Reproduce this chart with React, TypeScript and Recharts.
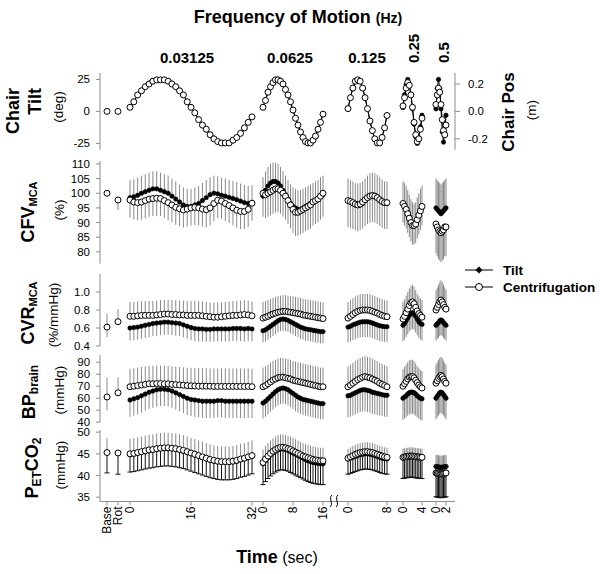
import { ComposedChart, Line, XAxis, YAxis, ErrorBar } from 'recharts';

const FONT = 'Arial, "Liberation Sans", Helvetica, sans-serif';
const AXIS = '#8c8c8c';

// frequency blocks of the broken time axis
const freqLabels = ['0.03125', '0.0625', '0.125', '0.25', '0.5'];
const preLabels = ['Base', 'Rot'];

// bin times within one cycle (sec)
const t1 = [0, 1, 2, 3, 4, 5, 6, 7, 8, 9, 10, 11, 12, 13, 14, 15, 16, 17, 18, 19, 20, 21, 22, 23, 24, 25, 26, 27, 28, 29, 30, 31, 32];
const t2 = [0, 0.67, 1.33, 2, 2.67, 3.33, 4, 4.67, 5.33, 6, 6.67, 7.33, 8, 8.67, 9.33, 10, 10.67, 11.33, 12, 12.67, 13.33, 14, 14.67, 15.33, 16];
const t3 = [0, 0.5, 1, 1.5, 2, 2.5, 3, 3.5, 4, 4.5, 5, 5.5, 6, 6.5, 7, 7.5, 8];
const t4 = [0, 0.33, 0.67, 1, 1.33, 1.67, 2, 2.33, 2.67, 3, 3.33, 3.67, 4];
const t5 = [0, 0.25, 0.5, 0.75, 1, 1.25, 1.5, 1.75, 2];
const segTimes = [t1, t2, t3, t4, t5];
const segTickTimes = [[0, 16, 32], [0, 8, 16], [0, 8], [0, 4], [0, 2]];

// chair tilt (deg) and chair position (m)
const chairTilt = [
  [3, 8, 12.5, 16.5, 19.5, 22, 24, 25, 25, 25, 24, 22, 19.5, 16.5, 12.5, 8, 3.5, -1, -6, -10.5, -14.5, -18, -21, -23.5, -25, -25, -24.5, -23, -20.5, -17, -13, -8.5, -4],
  [3, 9, 15, 19.5, 23, 25, 25, 24, 21.5, 17.5, 12.5, 7, 1, -5, -11, -16, -20.5, -23.5, -25, -25, -23, -19.5, -14.5, -8.5, -2],
  [2, 11, 18.5, 23.5, 25, 23.5, 18.5, 11, 2, -7, -15.5, -21.5, -25, -24.5, -20, -12.5, -3],
  [3, 13, 21, 25, 21, 13, 2, -10, -20, -25, -21, -12, -3],
  [2, 18, 25, 18, 2, -16, -24, -18, -3],
];
const chairPos = [
  [0.03, 0.07, 0.12, 0.15, 0.18, 0.2, 0.22, 0.23, 0.23, 0.23, 0.22, 0.2, 0.18, 0.15, 0.12, 0.07, 0.03, -0.01, -0.06, -0.1, -0.13, -0.17, -0.2, -0.22, -0.23, -0.23, -0.23, -0.21, -0.19, -0.16, -0.12, -0.08, -0.04],
  [0.03, 0.08, 0.14, 0.18, 0.21, 0.23, 0.23, 0.22, 0.2, 0.16, 0.12, 0.07, 0.01, -0.05, -0.1, -0.15, -0.19, -0.22, -0.23, -0.23, -0.21, -0.18, -0.13, -0.08, -0.02],
  [0.02, 0.1, 0.17, 0.22, 0.23, 0.22, 0.17, 0.1, 0.02, -0.07, -0.14, -0.2, -0.23, -0.23, -0.19, -0.12, -0.03],
  [0.04, 0.1, 0.17, 0.21, 0.19, 0.12, 0.03, -0.08, -0.17, -0.22, -0.2, -0.13, -0.05],
  [0.05, 0.12, 0.17, 0.14, 0.05, -0.06, -0.14, -0.17, -0.1],
];

// CFV MCA (%)
const cfvTilt = [
  [98.5, 98.8, 99.3, 100, 100.5, 101, 101.5, 101.5, 101, 100.5, 100, 99, 98, 97, 96, 95.5, 95.5, 96, 96.5, 97.5, 98.5, 99.5, 100, 99.8, 99.3, 99, 98.6, 98.2, 97.8, 97.3, 96.8, 96.5, 96.8],
  [99, 101, 102.5, 103.5, 104, 104, 103.5, 102.5, 101, 99.5, 98, 96.5, 95.5, 95, 94.5, 94.5, 95, 95.5, 96, 96.5, 97, 97.5, 98, 99, 99.5],
  [97.5, 97, 96.5, 96, 95.8, 96, 96.5, 97.5, 98.5, 99.3, 99.5, 99.3, 98.8, 98, 97.2, 96.6, 96.5],
  [96.5, 96, 95, 93.5, 92, 90.5, 89.5, 89, 89.5, 91, 92.5, 94, 95],
  [95, 94.5, 94, 93.5, 93, 93.5, 94, 94.5, 95],
];
const cfvCent = [
  [97.7, 97, 96.8, 97, 97.5, 98, 98.2, 98.3, 98.2, 97.5, 96.8, 96, 95.2, 94.7, 94.3, 94.6, 95, 95.2, 95, 94.6, 94.4, 95, 96.5, 97.6, 97.3, 96.5, 95.8, 95, 94.2, 93.8, 93.8, 94.5, 96.6],
  [100, 99.5, 100, 100.5, 101, 101.5, 101.5, 101, 100, 99, 97.5, 96, 94.5, 93.5, 93.5, 94, 94.5, 95, 95.5, 96, 97, 97.5, 98, 99, 100],
  [97.5, 97.2, 96.8, 96.3, 96, 96.3, 97, 97.8, 98.5, 99, 99.2, 99, 98.5, 97.8, 97.2, 96.8, 96.8],
  [96.5, 95.5, 94.5, 93, 91.5, 90, 89, 89, 89.5, 91, 92.5, 94, 95.5],
  [89.5, 88.5, 87.5, 87, 86.5, 87, 87.5, 88.5, 88.5],
];

// CVR MCA (%/mmHg)
const cvrTilt = [
  [0.6, 0.605, 0.61, 0.62, 0.63, 0.64, 0.65, 0.655, 0.66, 0.665, 0.665, 0.66, 0.655, 0.65, 0.635, 0.62, 0.605, 0.595, 0.59, 0.59, 0.585, 0.585, 0.59, 0.59, 0.59, 0.59, 0.59, 0.595, 0.595, 0.595, 0.59, 0.595, 0.59],
  [0.57, 0.58, 0.6, 0.62, 0.64, 0.66, 0.68, 0.695, 0.7, 0.695, 0.685, 0.67, 0.655, 0.64, 0.625, 0.61, 0.6, 0.59, 0.585, 0.58, 0.575, 0.57, 0.565, 0.56, 0.56],
  [0.61, 0.62, 0.635, 0.645, 0.655, 0.665, 0.67, 0.67, 0.67, 0.665, 0.655, 0.645, 0.635, 0.625, 0.62, 0.615, 0.615],
  [0.63, 0.65, 0.68, 0.71, 0.74, 0.76, 0.77, 0.76, 0.73, 0.7, 0.67, 0.65, 0.64],
  [0.63, 0.645, 0.66, 0.68, 0.69, 0.68, 0.66, 0.645, 0.63],
];
const cvrCent = [
  [0.73, 0.73, 0.735, 0.74, 0.74, 0.74, 0.74, 0.745, 0.75, 0.755, 0.755, 0.75, 0.75, 0.745, 0.745, 0.74, 0.74, 0.74, 0.74, 0.735, 0.73, 0.725, 0.72, 0.72, 0.725, 0.73, 0.735, 0.74, 0.74, 0.745, 0.75, 0.745, 0.735],
  [0.71, 0.72, 0.73, 0.745, 0.755, 0.765, 0.775, 0.78, 0.785, 0.785, 0.78, 0.775, 0.77, 0.765, 0.76, 0.755, 0.745, 0.74, 0.735, 0.73, 0.725, 0.72, 0.715, 0.71, 0.705],
  [0.71, 0.73, 0.75, 0.77, 0.785, 0.795, 0.8, 0.8, 0.8, 0.795, 0.785, 0.775, 0.765, 0.75, 0.74, 0.73, 0.725],
  [0.7, 0.73, 0.77, 0.81, 0.85, 0.88, 0.89, 0.87, 0.83, 0.79, 0.76, 0.74, 0.72],
  [0.8, 0.83, 0.86, 0.89, 0.91, 0.89, 0.86, 0.83, 0.81],
];

// BP brain (mmHg)
const bpTilt = [
  [58.5, 59.5, 60.5, 62, 63.5, 65, 66, 67, 67.5, 67.5, 67, 66, 64.5, 63, 61.5, 60, 59, 58.5, 58, 57.5, 57.5, 57.5, 57.5, 58, 58, 57.5, 57.5, 57.5, 57.5, 57.5, 57.5, 57.5, 57.5],
  [56, 57.5, 59.5, 61.5, 63.5, 65.5, 67, 68, 68.5, 68, 67, 65.5, 64, 62.5, 61, 60, 59, 58.5, 58, 57.5, 57, 56.5, 56, 55.5, 55.5],
  [62, 62.5, 63.5, 64.5, 65.5, 66.5, 67, 67, 66.5, 66, 65, 64.5, 64, 63.5, 63, 62.5, 62.5],
  [60, 61, 62, 63.5, 64.5, 65, 65, 64.5, 63.5, 62, 61, 60, 59.5],
  [60, 61.5, 63, 64.5, 65, 64.5, 63, 61.5, 60],
];
const bpCent = [
  [69.5, 70, 70.5, 71, 71.5, 72, 72, 72.2, 72.2, 72, 72, 71.5, 71.3, 71, 70.8, 70.5, 70.3, 70.2, 70, 70, 70, 70, 69.8, 69.8, 69.8, 69.8, 69.8, 69.8, 69.8, 69.8, 69.8, 69.8, 69.6],
  [69.5, 70.5, 72, 73.5, 75, 76, 77, 77.5, 77.5, 77, 76.5, 76, 75, 74.5, 74, 73.5, 73, 72.5, 72, 71.5, 71, 70.5, 70, 69.5, 69.5],
  [69.5, 71, 72.5, 74, 75.5, 76.5, 77.5, 78, 77.5, 77, 76, 75, 74, 72.5, 71.5, 70.5, 69.5],
  [70, 72, 74, 76, 77.5, 78, 78, 77, 75, 73, 71, 69.5, 68.5],
  [72.5, 74.5, 76.5, 78, 79, 78, 76, 74, 72.5],
];

// PETCO2 (mmHg)
const petTilt = [
  [44.8, 44.9, 45.1, 45.3, 45.5, 45.7, 45.8, 46, 46.1, 46.2, 46.2, 46.1, 46, 45.8, 45.6, 45.3, 45, 44.7, 44.4, 44.1, 43.8, 43.5, 43.3, 43.1, 43, 43, 43, 43.1, 43.3, 43.6, 43.8, 44.1, 44.4],
  [42.7, 43.4, 44.1, 44.7, 45.2, 45.6, 45.9, 46.1, 46.1, 46, 45.8, 45.5, 45.2, 44.9, 44.6, 44.3, 44, 43.7, 43.4, 43.2, 43, 42.9, 42.8, 42.7, 42.7],
  [43.8, 44, 44.2, 44.4, 44.6, 44.8, 44.9, 45, 45, 44.9, 44.8, 44.6, 44.4, 44.2, 44, 43.9, 43.8],
  [44, 44.1, 44.2, 44.2, 44.3, 44.3, 44.3, 44.2, 44.2, 44.1, 44.1, 44, 44],
  [42.1, 42, 42, 41.9, 41.9, 41.9, 42, 42, 42.1],
];
const petCent = [
  [45, 45.1, 45.3, 45.5, 45.7, 45.9, 46, 46.2, 46.3, 46.4, 46.4, 46.3, 46.2, 46, 45.8, 45.5, 45.2, 44.9, 44.6, 44.3, 44, 43.7, 43.5, 43.3, 43.2, 43.2, 43.2, 43.3, 43.5, 43.8, 44, 44.3, 44.6],
  [43, 43.8, 44.5, 45.1, 45.6, 46, 46.3, 46.5, 46.5, 46.4, 46.2, 46, 45.7, 45.4, 45.1, 44.8, 44.5, 44.3, 44.1, 43.9, 43.7, 43.6, 43.5, 43.4, 43.4],
  [44, 44.3, 44.6, 44.9, 45.1, 45.3, 45.4, 45.5, 45.5, 45.4, 45.3, 45.1, 44.9, 44.7, 44.5, 44.3, 44.2],
  [44.2, 44.3, 44.4, 44.4, 44.5, 44.5, 44.5, 44.4, 44.4, 44.3, 44.3, 44.2, 44.2],
  [40.6, 40.5, 40.5, 40.4, 40.4, 40.4, 40.5, 40.5, 40.6],
];

// one-sided SD per frequency block: [tilt, centrifugation]
const cfvSd = [[6, 6.5, 7.5, 7.5, 10], [6, 8, 9, 6.5, 10]];
const cvrSd = [[0.14, 0.13, 0.17, 0.18, 0.17], [0.16, 0.18, 0.18, 0.19, 0.22]];
const bpSd = [[14, 13, 18, 18, 17.5], [15, 16, 17, 14, 15.5]];
const petSd = [[4, 4.8, 3.5, 4.7, 7], [3.5, 3, 2.2, 2, 4.2]];

// Base / Rot points: [tilt, centrifugation] and their SD
const chairPre = [[0, 0], [0, 0]];
const cfvPre = [[100, 100], [97.7, 97.7]];
const cfvPreSd = [[0, 0], [0, 3.4]];
const cvrPre = [[0.61, 0.61], [0.67, 0.67]];
const cvrPreSd = [[0.11, 0.15], [0, 0.14]];
const bpPre = [[61, 61], [64.5, 64.5]];
const bpPreSd = [[11, 16], [0, 13]];
const petPre = [[45.3, 45.3], [45.2, 45.2]];
const petPreSd = [[4.7, 3.3], [4.9, 0]];

// layout of the broken time axis, in px from the y axis
const PRE_X = [7, 18];
const SEG_X0 = [30, 163, 248, 303, 336];
const SEG_K = [3.8125, 3.75, 4.875, 4.75, 5];
const X_MAX = 355;

const tickXs: number[] = [...PRE_X];
const tickLabels: string[] = [...preLabels];
segTickTimes.forEach((ts, s) => ts.forEach((t) => { tickXs.push(SEG_X0[s] + t * SEG_K[s]); tickLabels.push(String(t)); }));

type Panel = {
  id: string; top: number; bottom: number; domain: [number, number]; ticks: number[]; digits: number;
  tilt: number[][]; cent: number[][]; sd: number[][] | null; pre: number[][]; preSd: number[][] | null;
  tiltUp: boolean; tiltBar: string; centBar: string; tiltCap: number; right?: boolean;
};

const panels: Panel[] = [
  { id: 'chair', top: 72.6, bottom: 149.4, domain: [-30, 30], ticks: [-25, 0, 25], digits: 0, tilt: chairTilt, cent: chairPos, sd: null, pre: chairPre, preSd: null, tiltUp: false, tiltBar: AXIS, centBar: AXIS, tiltCap: 0, right: true },
  { id: 'cfv', top: 161.1, bottom: 263.7, domain: [76, 111], ticks: [80, 85, 90, 95, 100, 105, 110], digits: 0, tilt: cfvTilt, cent: cfvCent, sd: cfvSd, pre: cfvPre, preSd: cfvPreSd, tiltUp: true, tiltBar: '#8a8a8a', centBar: '#8a8a8a', tiltCap: 0 },
  { id: 'cvr', top: 274, bottom: 346, domain: [0.4, 1.2], ticks: [0.4, 0.6, 0.8, 1.0], digits: 1, tilt: cvrTilt, cent: cvrCent, sd: cvrSd, pre: cvrPre, preSd: cvrPreSd, tiltUp: false, tiltBar: '#8a8a8a', centBar: '#8a8a8a', tiltCap: 0 },
  { id: 'bp', top: 354.8, bottom: 422, domain: [40, 96], ticks: [40, 50, 60, 70, 80, 90], digits: 0, tilt: bpTilt, cent: bpCent, sd: bpSd, pre: bpPre, preSd: bpPreSd, tiltUp: false, tiltBar: '#8a8a8a', centBar: '#8a8a8a', tiltCap: 0 },
  { id: 'pet', top: 429.8, bottom: 501.3, domain: [34, 50.5], ticks: [35, 40, 45, 50], digits: 0, tilt: petTilt, cent: petCent, sd: petSd, pre: petPre, preSd: petPreSd, tiltUp: false, tiltBar: '#111', centBar: '#8a8a8a', tiltCap: 2.5 },
];

function groupsOf(p: Panel) {
  const err = (v: number, up: boolean) => (up ? [0, v] : [v, 0]);
  const out: { key: string; rows: any[] }[] = [];
  p.pre.forEach(([ti, ce], i) => {
    const [ts, cs] = p.preSd ? p.preSd[i] : [0, 0];
    out.push({ key: preLabels[i], rows: [{ x: PRE_X[i], tilt: ti, cent: ce, te: err(ts, p.tiltUp), ce: err(cs, !p.tiltUp) }] });
  });
  segTimes.forEach((ts, s) => {
    const tsd = p.sd ? p.sd[0][s] : 0;
    const csd = p.sd ? p.sd[1][s] : 0;
    out.push({
      key: freqLabels[s],
      rows: ts.map((t, i) => ({ x: SEG_X0[s] + t * SEG_K[s], tilt: p.tilt[s][i], cent: p.cent[s][i], te: err(tsd, p.tiltUp), ce: err(csd, !p.tiltUp) })),
    });
  });
  return out;
}

const renderXTick = (props: any) => {
  const { x, y, index } = props;
  return (
    <text key={`xt-${index}`} x={x} y={y} transform={`rotate(-90 ${x} ${y})`} textAnchor="end" dominantBaseline="central" fontSize={12} fontFamily={FONT} fill="#000">
      {tickLabels[index]}
    </text>
  );
};

const M = 9;
const X_AXIS_H = 44;
const tickStyle = { fontSize: 11.5, fill: '#000', fontFamily: FONT };

function PanelChart({ p, last }: { p: Panel; last: boolean }) {
  const plotH = p.bottom - p.top;
  const h = plotH + M + (last ? X_AXIS_H : M);
  const groups = groupsOf(p);
  const centAxis = p.right ? 'R' : 'L';
  return (
    <div style={{ position: 'absolute', left: 0, top: p.top - M }}>
      <ComposedChart width={600} height={h} margin={{ top: M, right: p.right ? 85 : 145, bottom: last ? 0 : M, left: 40 }} style={{ overflow: 'visible' }}>
        <XAxis type="number" dataKey="x" domain={[0, X_MAX]} allowDataOverflow hide={!last} ticks={tickXs} interval={0}
          height={X_AXIS_H} tickSize={4} tickMargin={1} tick={renderXTick} axisLine={{ stroke: AXIS }} tickLine={{ stroke: AXIS }} />
        <YAxis yAxisId="L" type="number" domain={p.domain} allowDataOverflow ticks={p.ticks} interval={0} width={60}
          tickSize={4} tickMargin={6} tick={tickStyle} tickFormatter={(v: number) => v.toFixed(p.digits)}
          axisLine={{ stroke: AXIS }} tickLine={{ stroke: AXIS }} />
        {p.right && (
          <YAxis yAxisId="R" orientation="right" type="number" domain={[-0.28, 0.28]} ticks={[-0.2, 0, 0.2]} interval={0} width={60}
            tickSize={5} tickMargin={8} tick={tickStyle} tickFormatter={(v: number) => v.toFixed(1)}
            axisLine={{ stroke: AXIS }} tickLine={{ stroke: AXIS }} />
        )}
        {p.sd && groups.map((g) => (
          <Line key={`tb-${g.key}`} yAxisId="L" data={g.rows} dataKey="tilt" stroke="none" dot={false} activeDot={false} isAnimationActive={false}>
            <ErrorBar dataKey="te" direction="y" width={p.tiltCap} stroke={p.tiltBar} strokeWidth={1} isAnimationActive={false} />
          </Line>
        ))}
        {p.sd && groups.map((g) => (
          <Line key={`cb-${g.key}`} yAxisId={centAxis} data={g.rows} dataKey="cent" stroke="none" dot={false} activeDot={false} isAnimationActive={false}>
            <ErrorBar dataKey="ce" direction="y" width={0} stroke={p.centBar} strokeWidth={1} isAnimationActive={false} />
          </Line>
        ))}
        {groups.map((g) => (
          <Line key={`t-${g.key}`} yAxisId="L" data={g.rows} dataKey="tilt" stroke="#000" strokeWidth={1}
            dot={{ r: 2.2, fill: '#000', stroke: '#000', strokeWidth: 0.6 }} activeDot={false} isAnimationActive={false} />
        ))}
        {groups.map((g) => (
          <Line key={`c-${g.key}`} yAxisId={centAxis} data={g.rows} dataKey="cent" stroke="#000" strokeWidth={1}
            dot={{ r: 3, fill: '#fff', stroke: '#000', strokeWidth: 1 }} activeDot={false} isAnimationActive={false} />
        ))}
      </ComposedChart>
    </div>
  );
}

function VText({ x, y, size, bold, anchor = 'middle', children }: any) {
  return (
    <text transform={`translate(${x} ${y}) rotate(-90)`} textAnchor={anchor} dominantBaseline="central"
      fontSize={size} fontWeight={bold ? 'bold' : 'normal'} fontFamily={FONT} fill="#000">
      {children}
    </text>
  );
}

function Decor() {
  const freqX = [187, 290, 367];
  return (
    <svg width={600} height={574} style={{ position: 'absolute', left: 0, top: 0, pointerEvents: 'none' }}>
      <text x={298} y={23} textAnchor="middle" fontFamily={FONT} fontWeight="bold" fontSize={18}>
        Frequency of Motion <tspan fontSize={14}>(Hz)</tspan>
      </text>
      {freqX.map((x, i) => (
        <text key={freqLabels[i]} x={x} y={63} textAnchor="middle" fontFamily={FONT} fontWeight="bold" fontSize={15}>{freqLabels[i]}</text>
      ))}
      <VText x={413} y={63} size={15} bold anchor="start">{freqLabels[3]}</VText>
      <VText x={443} y={63} size={15} bold anchor="start">{freqLabels[4]}</VText>

      <VText x={13} y={88} size={18} bold anchor="end">Chair</VText>
      <VText x={35} y={88} size={18} bold anchor="end">Tilt</VText>
      <VText x={58} y={107} size={13.5}>(deg)</VText>

      <VText x={28} y={212} size={18} bold>CFV<tspan fontSize={11} dy={5}>MCA</tspan></VText>
      <VText x={59} y={210} size={13.5}>(%)</VText>

      <VText x={28} y={313} size={18} bold>CVR<tspan fontSize={11} dy={5}>MCA</tspan></VText>
      <VText x={53} y={315} size={13.5}>(%/mmHg)</VText>

      <VText x={29} y={392} size={18} bold>BP<tspan fontSize={12} dy={5}>brain</tspan></VText>
      <VText x={59} y={390} size={13.5}>(mmHg)</VText>

      <VText x={32} y={468} size={18} bold>P<tspan fontSize={12} dy={5}>ET</tspan><tspan fontSize={18} dy={-5}>CO</tspan><tspan fontSize={12} dy={5}>2</tspan></VText>
      <VText x={60} y={465} size={13.5}>(mmHg)</VText>

      <VText x={508} y={112} size={17} bold>Chair Pos</VText>
      <VText x={531} y={110} size={13.5}>(m)</VText>

      <line x1={465} x2={493} y1={270} y2={270} stroke="#000" strokeWidth={1} />
      <path d="M479 266.5 L482.5 270 L479 273.5 L475.5 270 Z" fill="#000" />
      <text x={503} y={270} dominantBaseline="central" fontFamily={FONT} fontWeight="bold" fontSize={13.5}>Tilt</text>
      <line x1={465} x2={493} y1={287} y2={287} stroke="#000" strokeWidth={1} />
      <circle cx={479} cy={287} r={3.5} fill="#fff" stroke="#000" strokeWidth={1} />
      <text x={503} y={287} dominantBaseline="central" fontFamily={FONT} fontWeight="bold" fontSize={13.5}>Centrifugation</text>

      <path d="M330 507 C334 504, 328 498, 332 495" fill="none" stroke="#000" strokeWidth={1} />
      <path d="M336 507 C340 504, 334 498, 338 495" fill="none" stroke="#000" strokeWidth={1} />

      <text x={277} y={563} textAnchor="middle" fontFamily={FONT} fontSize={16}>
        <tspan fontWeight="bold" fontSize={18}>Time</tspan> (sec)
      </text>
    </svg>
  );
}

export default function App() {
  return (
    <div style={{ position: 'absolute', left: 0, top: 0, width: 600, height: 574, background: '#fff', fontFamily: FONT }}>
      {panels.map((p, i) => (
        <PanelChart key={p.id} p={p} last={i === panels.length - 1} />
      ))}
      <Decor />
    </div>
  );
}
